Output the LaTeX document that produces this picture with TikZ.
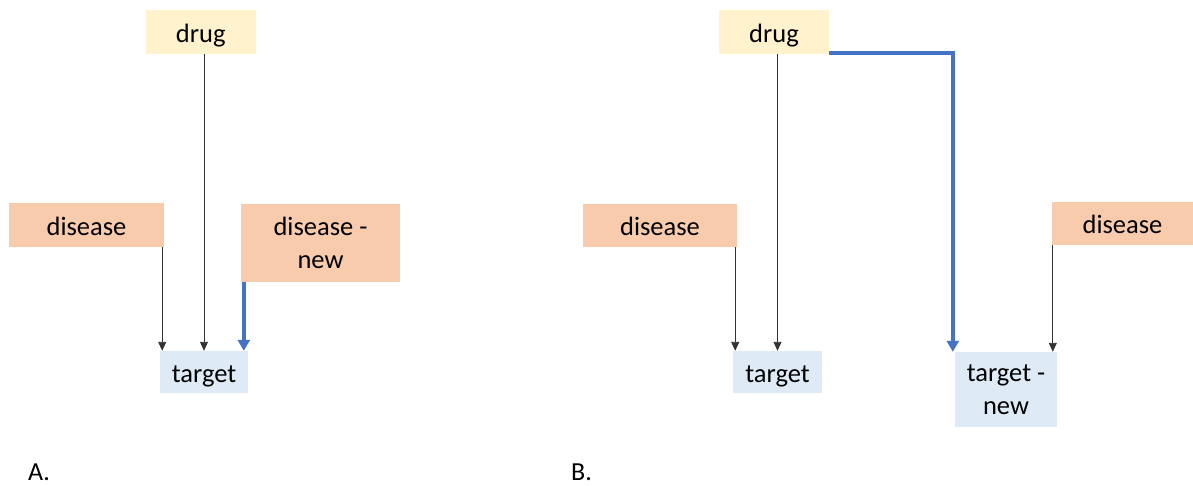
\documentclass[tikz,border=0pt]{standalone}
\usepackage{fontspec}
\setmainfont{Carlito}
\usetikzlibrary{arrows.meta}
\definecolor{drugfill}{HTML}{FFF2CC}
\definecolor{disfill}{HTML}{F8CBAD}
\definecolor{tgtfill}{HTML}{DEEBF7}
\definecolor{newblue}{HTML}{4472C4}
\tikzset{
  box/.style={rectangle, inner sep=0pt, align=center, font=\fontsize{26.5}{33}\selectfont},
  oneline/.style={text height=20.5pt, text depth=0pt},
  drugbox/.style={box, fill=drugfill},
  disbox/.style={box, fill=disfill},
  tgtbox/.style={box, fill=tgtfill},
  thinarr/.style={draw=black!80, line width=0.9pt, -{Triangle[length=9pt,width=8pt]}},
  bluearr/.style={draw=newblue, line width=3.5pt, -{Triangle[length=11pt,width=12pt]}},
  panellabel/.style={anchor=base west, inner sep=1pt, font=\fontsize{26}{31}\selectfont}
}
\begin{document}
\begin{tikzpicture}[x=1pt,y=-1pt]
\useasboundingbox (0,0) rectangle (1193,486);
% Panel A
\node[drugbox, oneline, minimum width=110.5pt, minimum height=44pt] (drugA) at (200.75,32) {drug};
\node[disbox, oneline, minimum width=155pt, minimum height=44pt] (disA) at (86.5,225) {disease};
\node[disbox, minimum width=159pt, minimum height=78pt] (disNew) at (320.5,243) {disease -\\new};
\node[tgtbox, oneline, minimum width=88pt, minimum height=42pt] (tA) at (204,372) {target};
\draw[thinarr] ([xshift=-2pt]disA.south east) -- ([xshift=-2pt]disA.south east |- tA.north);
\draw[thinarr] (tA.north |- drugA.south) -- (tA.north);
\draw[bluearr] ([xshift=3pt]disNew.south west) -- ([xshift=3pt]disNew.south west |- tA.north);
\node[panellabel] (labA) at (27,480) {A.};
% Panel B
\node[drugbox, oneline, minimum width=110pt, minimum height=44pt] (drugB) at (774,32) {drug};
\node[disbox, oneline, minimum width=154pt, minimum height=43pt] (disB) at (660,225.5) {disease};
\node[disbox, oneline, minimum width=141pt, minimum height=43pt] (disR) at (1122.5,223.5) {disease};
\node[tgtbox, oneline, minimum width=89pt, minimum height=42pt] (tB) at (777.5,372) {target};
\node[tgtbox, minimum width=102pt, minimum height=75pt] (tNew) at (1006,389.5) {target -\\new};
\draw[thinarr] ([xshift=-2pt]disB.south east) -- ([xshift=-2pt]disB.south east |- tB.north);
\draw[thinarr] (tB.north |- drugB.south) -- (tB.north);
\draw[bluearr] ([yshift=1pt]drugB.south east) -| ([xshift=-2pt]tNew.north west);
\draw[thinarr] ([xshift=1pt]disR.south west) -- ([xshift=1pt]disR.south west |- tNew.north);
\node[panellabel] (labB) at (570,480) {B.};
\end{tikzpicture}
\end{document}
